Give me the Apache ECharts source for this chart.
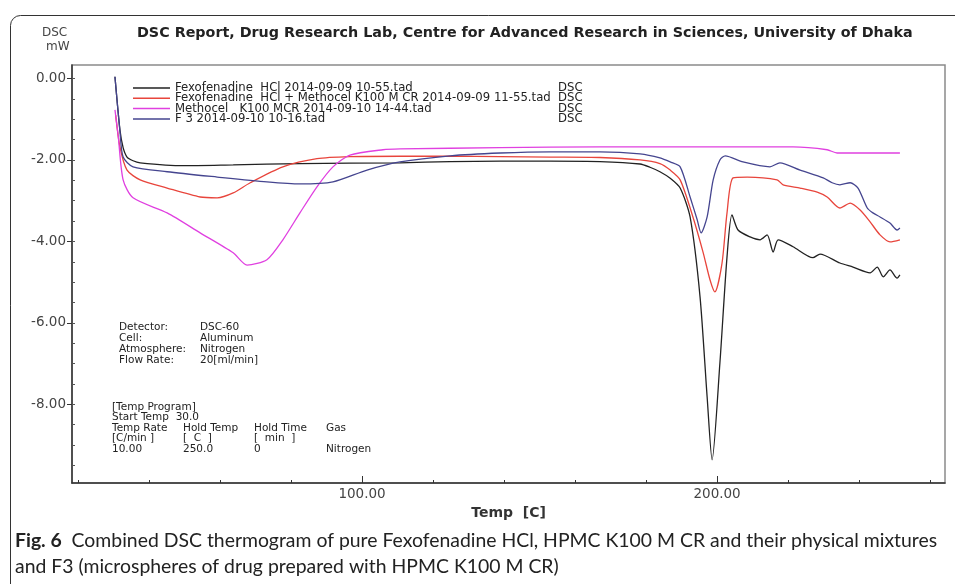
<!DOCTYPE html>
<html>
<head>
<meta charset="utf-8">
<script src="https://cdn.jsdelivr.net/npm/echarts@6/dist/echarts.min.js"></script>
<style>html,body{margin:0;padding:0;background:#fff;}#c{width:955px;height:584px;}</style>
</head>
<body>
<div id="c"></div>
<script>
// ---- data ----
var seriesNames = [
  'Fexofenadine  HCl 2014-09-09 10-55.tad',
  'Fexofenadine  HCl + Methocel K100 M CR 2014-09-09 11-55.tad',
  'Methocel   K100 MCR 2014-09-10 14-44.tad',
  'F 3 2014-09-10 10-16.tad'
];
var seriesColors = ['#222222', '#e8453c', '#e040e0', '#45458f'];
var xTickValues = [20, 40, 60, 80, 100, 120, 140, 160, 180, 200, 220, 240, 260];
var xLabelValues = [100, 200];
var yLabelValues = [0, -2, -4, -6, -8];
var yMinorTicks = [0, -0.5, -1, -1.5, -2, -2.5, -3, -3.5, -4, -4.5, -5, -5.5, -6, -6.5, -7, -7.5, -8, -8.5, -9, -9.5];

var fexoHCl = [[30.4,0.04],[31.8,-1.26],[32.7,-1.70],[33.8,-1.93],[35.5,-2.02],[37.5,-2.07],[49.6,-2.14],[63.7,-2.12],[82.5,-2.09],[110.7,-2.07],[124.8,-2.04],[138.9,-2.03],[153,-2.03],[167,-2.04],[178.3,-2.10],[181.1,-2.18],[183.9,-2.29],[186.8,-2.45],[189.6,-2.69],[192.4,-3.40],[195.2,-5.36],[197.2,-7.82],[198.6,-9.36],[200.8,-6.98],[202.8,-4.38],[204.2,-3.35],[205.9,-3.72],[209.3,-3.89],[212.1,-3.96],[214.1,-3.84],[215.8,-4.26],[217.2,-3.96],[221.4,-4.13],[227.0,-4.40],[229.0,-4.31],[234.6,-4.53],[238.3,-4.63],[243.1,-4.77],[245.1,-4.63],[246.8,-4.87],[248.7,-4.70],[250.7,-4.90],[251.5,-4.82]];
var mixture = [[30.6,-0.90],[31.8,-1.68],[33.8,-2.25],[37.5,-2.49],[45.1,-2.69],[54.4,-2.91],[59.2,-2.93],[63.7,-2.81],[68.5,-2.56],[77.7,-2.17],[87.3,-1.97],[96.6,-1.92],[110.7,-1.91],[124.8,-1.91],[138.9,-1.92],[153,-1.93],[167,-1.94],[178.3,-2.00],[183.9,-2.09],[186.8,-2.25],[189.6,-2.49],[193.2,-3.40],[196.1,-4.28],[198.0,-4.94],[199.4,-5.24],[201.4,-4.53],[202.8,-3.30],[204.5,-2.44],[208.5,-2.42],[216.9,-2.49],[218.6,-2.61],[223.4,-2.69],[228.2,-2.79],[231.0,-2.91],[234.6,-3.18],[237.5,-3.06],[240.3,-3.23],[243.1,-3.52],[245.9,-3.84],[248.7,-4.01],[251.5,-3.96]];
var methocel = [[30.4,-0.77],[31.3,-1.40],[32.7,-2.49],[35.5,-2.93],[45.1,-3.30],[54.4,-3.79],[63.7,-4.28],[67.6,-4.58],[73.2,-4.45],[77.7,-3.96],[82.5,-3.30],[87.3,-2.66],[91.8,-2.17],[96.6,-1.88],[105.9,-1.75],[110.7,-1.73],[138.9,-1.70],[167,-1.68],[200,-1.68],[221.4,-1.68],[231.0,-1.75],[233.8,-1.83],[251.5,-1.83]];
var f3 = [[30.4,0.04],[31.8,-1.30],[32.7,-1.93],[35.5,-2.17],[45.1,-2.29],[59.2,-2.42],[73.2,-2.54],[82.5,-2.59],[91.8,-2.54],[101.4,-2.25],[110.7,-2.05],[124.8,-1.90],[138.9,-1.83],[153,-1.80],[167,-1.80],[178.3,-1.85],[183.9,-1.95],[186.8,-2.05],[189.6,-2.17],[192.4,-2.91],[194.4,-3.47],[195.5,-3.79],[197.2,-3.40],[198.9,-2.49],[200.8,-2.00],[202.3,-1.90],[207.3,-2.05],[214.9,-2.17],[217.7,-2.07],[223.4,-2.25],[229.9,-2.44],[232.4,-2.56],[234.6,-2.61],[237.5,-2.56],[239.7,-2.69],[242.3,-3.18],[243.9,-3.30],[245.9,-3.40],[248.7,-3.55],[250.7,-3.72],[251.5,-3.67]];
var seriesData = [fexoHCl, mixture, methocel, f3];

var xMin = 18.3, xMax = 264.2, yMin = -9.93, yMax = 0.33;

var chart = echarts.init(document.getElementById('c'), null, {renderer: 'canvas'});
var fontD = '"DejaVu Sans", Verdana, sans-serif';
var fontCap = 'Lato, sans-serif';

var series = seriesNames.map(function (n, i) {
  return {
    name: n, type: 'line', data: seriesData[i], xAxisIndex: 0, yAxisIndex: 0,
    symbol: 'none', smooth: 0.25, animation: false,
    lineStyle: {color: seriesColors[i], width: 1.3},
    itemStyle: {color: seriesColors[i]}
  };
});

var annot = [
  ['Detector:', 'DSC-60', 327],
  ['Cell:', 'Aluminum', 338],
  ['Atmosphere:', 'Nitrogen', 349],
  ['Flow Rate:', '20[ml/min]', 360]
];
var graphics = [
  {type: 'rect', left: 8, top: 13, shape: {width: 1000, height: 700, r: 10}, style: {fill: 'none', stroke: '#333', lineWidth: 1}, silent: true},
  {type: 'text', x: 42, y: 33, style: {text: 'DSC', font: '12px ' + fontD, fill: '#444', verticalAlign: 'middle'}},
  {type: 'text', x: 46, y: 47, style: {text: 'mW', font: '12px ' + fontD, fill: '#444', verticalAlign: 'middle'}},
  {type: 'text', x: 137, y: 33, style: {text: 'DSC Report, Drug Research Lab, Centre for Advanced Research in Sciences, University of Dhaka', font: 'bold 14.3px ' + fontD, fill: '#222', verticalAlign: 'middle'}}
];
annot.forEach(function (a) {
  graphics.push({type: 'text', x: 119, y: a[2], style: {text: a[0], font: '10.5px ' + fontD, fill: '#222', verticalAlign: 'middle'}});
  graphics.push({type: 'text', x: 200, y: a[2], style: {text: a[1], font: '10.5px ' + fontD, fill: '#222', verticalAlign: 'middle'}});
});
var prog = [
  [[112, '[Temp Program]']],
  [[112, 'Start Temp  30.0']],
  [[112, 'Temp Rate'], [183, 'Hold Temp'], [254, 'Hold Time'], [326, 'Gas']],
  [[112, '[C/min ]'], [183, '[  C  ]'], [254, '[  min  ]']],
  [[112, '10.00'], [183, '250.0'], [254, '0'], [326, 'Nitrogen']]
];
var progY = [407, 417, 428, 438, 449];
prog.forEach(function (row, r) {
  row.forEach(function (c) {
    graphics.push({type: 'text', x: c[0], y: progY[r], style: {text: c[1], font: '10.5px ' + fontD, fill: '#222', verticalAlign: 'middle'}});
  });
});
graphics.push({type: 'text', x: 15, y: 541, style: {
  text: '{b|Fig. 6}  Combined DSC thermogram of pure Fexofenadine HCl, HPMC K100 M CR and their physical mixtures',
  font: '19.4px ' + fontCap, fill: '#222', verticalAlign: 'middle', rich: {b: {font: 'bold 19.4px ' + fontCap, fill: '#222'}}}});
graphics.push({type: 'text', x: 15, y: 567, style: {
  text: 'and F3 (microspheres of drug prepared with HPMC K100 M CR)', font: '19.4px ' + fontCap, fill: '#222', verticalAlign: 'middle'}});

var legendText = {fontFamily: fontD, fontSize: 11.7, color: '#222', lineHeight: 10};
var gridBox = {left: 72, right: 10, top: 65, bottom: 101};
var option = {
  animation: false,
  backgroundColor: '#fff',
  grid: [
    Object.assign({show: true, borderColor: '#8a8a8a', borderWidth: 1.5, backgroundColor: 'transparent'}, gridBox),
    Object.assign({show: false}, gridBox)
  ],
  legend: [
    {orient: 'vertical', left: 133, top: 82, padding: 0, itemGap: -1.7, itemWidth: 37, itemHeight: 1.5,
     icon: 'rect', data: seriesNames, textStyle: legendText, selectedMode: false},
    {orient: 'vertical', left: 553, top: 82, padding: 0, itemGap: -1.7, itemWidth: 0, itemHeight: 1.5,
     icon: 'none', data: seriesNames, formatter: function () { return 'DSC'; }, textStyle: legendText, selectedMode: false}
  ],
  xAxis: [
    {type: 'value', gridIndex: 0, min: xMin, max: xMax, position: 'bottom',
     axisLine: {show: true, onZero: false, lineStyle: {color: '#333', width: 1.5}},
     axisTick: {show: true, inside: true, length: 3, customValues: xTickValues, lineStyle: {color: '#333'}},
     axisLabel: {customValues: xLabelValues, formatter: function (v) { return v.toFixed(2); }, margin: 4, fontFamily: fontD, fontSize: 13.5, color: '#444'},
     splitLine: {show: false},
     name: 'Temp  [C]', nameLocation: 'middle', nameGap: 23,
     nameTextStyle: {fontFamily: fontD, fontSize: 14, fontWeight: 'bold', color: '#333'}},
    {type: 'value', gridIndex: 1, min: xMin, max: xMax, position: 'bottom',
     axisLine: {show: false, onZero: false}, axisTick: {show: true, inside: true, length: 7, customValues: xLabelValues, lineStyle: {color: '#333', width: 1}},
     axisLabel: {show: false}, splitLine: {show: false}}
  ],
  yAxis: [
    {type: 'value', gridIndex: 0, min: yMin, max: yMax, position: 'left',
     axisLine: {show: true, onZero: false, lineStyle: {color: '#333', width: 1.5}},
     axisTick: {show: true, length: 5, customValues: yLabelValues, lineStyle: {color: '#333'}},
     axisLabel: {customValues: yLabelValues, formatter: function (v) { return v.toFixed(2); }, margin: 6, fontFamily: fontD, fontSize: 13.5, color: '#444'},
     splitLine: {show: false}},
    {type: 'value', gridIndex: 1, min: yMin, max: yMax, position: 'left',
     axisLine: {show: false, onZero: false}, axisTick: {show: true, inside: true, length: 3, customValues: yMinorTicks, lineStyle: {color: '#555'}},
     axisLabel: {show: false}, splitLine: {show: false}}
  ],
  series: series,
  graphic: graphics
};
chart.setOption(option);
</script>
</body>
</html>
